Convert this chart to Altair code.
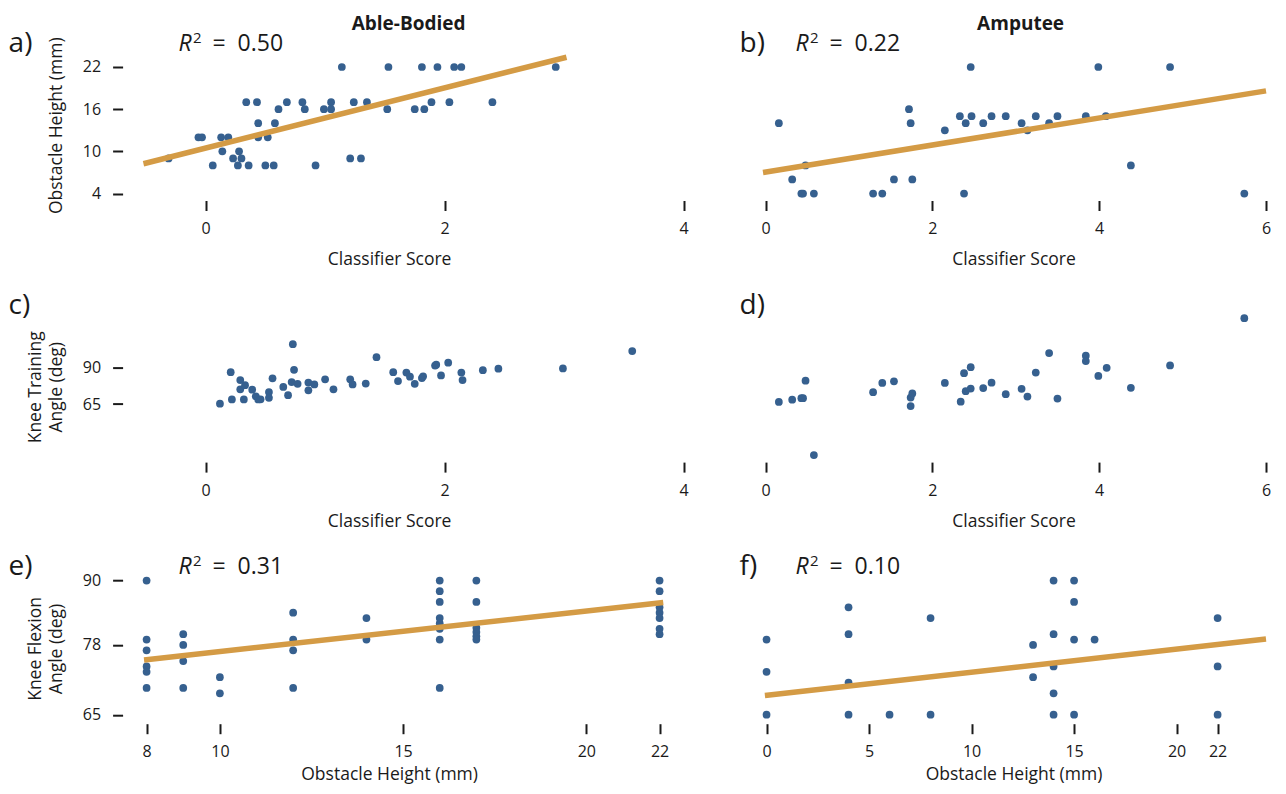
import altair as alt
import pandas as pd

FONT = "Open Sans"
PT_COLOR = "#36608F"
FIT_COLOR = "#D49B45"
INK = "#1a1a1a"

# ---------------- data ----------------
# a) Able-Bodied: classifier score vs obstacle height (mm)
a_score = [1.14, 1.53, 1.81, 1.94, 2.08, 2.14, 2.93,
           0.34, 0.43, 0.68, 0.81, 1.05, 1.24, 1.35, 1.89, 2.04, 2.40,
           0.61, 0.83, 0.99, 1.05, 1.52, 1.75, 1.83,
           0.44, 0.58,
           -0.06, -0.03, 0.13, 0.19, 0.44, 0.52,
           0.14, 0.28,
           -0.31, 0.23, 0.30, 1.21, 1.30,
           0.06, 0.27, 0.36, 0.50, 0.57, 0.92]
a_height = [22, 22, 22, 22, 22, 22, 22,
            17, 17, 17, 17, 17, 17, 17, 17, 17, 17,
            16, 16, 16, 16, 16, 16, 16,
            14, 14,
            12, 12, 12, 12, 12, 12,
            10, 10,
            9, 9, 9, 9, 9,
            8, 8, 8, 8, 8, 8]
a_fit_x = [-0.52, 3.02]
a_fit_y = [8.24, 23.39]

# b) Amputee: classifier score vs obstacle height (mm)
b_score = [0.16, 0.32, 0.43, 0.45, 0.48, 0.58, 1.29, 1.40, 1.54, 1.72, 1.74,
           1.76, 2.15, 2.33, 2.38, 2.40, 2.46, 2.47, 2.61, 2.71, 2.88, 3.07,
           3.14, 3.24, 3.40, 3.50, 3.84, 3.99, 4.08, 4.38, 4.85, 5.74]
b_height = [14, 6, 4, 4, 8, 4, 4, 4, 6, 16, 14,
            6, 13, 15, 4, 14, 22, 15, 14, 15, 15, 14,
            13, 15, 14, 15, 15, 22, 15, 8, 22, 4]
b_fit_x = [-0.03, 6.0]
b_fit_y = [7.0, 18.6]

# c) Able-Bodied: classifier score vs knee training angle (deg)
c_score = [0.12, 0.21, 0.22, 0.29, 0.29, 0.33, 0.32, 0.39, 0.42, 0.44, 0.46,
           0.53, 0.53, 0.56, 0.65, 0.69, 0.72, 0.73, 0.74, 0.77, 0.86, 0.86,
           0.91, 1.00, 1.07, 1.21, 1.23, 1.34, 1.43, 1.57, 1.61, 1.68, 1.71,
           1.75, 1.81, 1.82, 1.92, 1.93, 1.97, 2.03, 2.14, 2.15, 2.32, 2.45,
           2.99, 3.57]
c_angle = [65.2, 86.8, 68.1, 81.4, 75.1, 77.9, 68.1, 74.8, 70.3, 68.1, 68.2,
           73.2, 69.2, 82.6, 76.7, 71.0, 80.0, 106.0, 88.4, 78.8, 79.7, 74.4,
           78.4, 81.9, 75.1, 81.9, 78.4, 79.0, 97.1, 86.8, 80.7, 86.5, 83.7,
           78.8, 82.8, 84.0, 91.3, 91.9, 84.6, 93.3, 86.5, 81.4, 88.2, 89.2,
           89.4, 101.3]

# d) Amputee: classifier score vs knee training angle (deg)
d_score = [0.16, 0.32, 0.43, 0.45, 0.48, 0.58, 1.29, 1.40, 1.54, 1.74, 1.74,
           1.76, 2.15, 2.34, 2.38, 2.40, 2.46, 2.46, 2.61, 2.71, 2.88, 3.07,
           3.14, 3.24, 3.40, 3.50, 3.84, 3.84, 3.99, 4.09, 4.38, 4.85, 5.74]
d_angle = [66.4, 68.0, 69.0, 69.0, 81.0, 30.0, 73.1, 79.4, 80.5, 63.6, 69.4,
           72.2, 79.4, 66.6, 86.1, 73.8, 90.2, 75.6, 75.9, 79.6, 71.7, 75.4,
           70.1, 86.5, 99.9, 68.7, 98.1, 94.4, 84.2, 89.8, 76.1, 91.4, 123.8]

# e) Able-Bodied: obstacle height vs knee flexion angle (deg)
e_height = [8, 8, 8, 8, 8, 8,
            9, 9, 9, 9,
            10, 10,
            12, 12, 12, 12,
            14, 14,
            16, 16, 16, 16, 16, 16, 16, 16,
            17, 17, 17, 17, 17, 17,
            22, 22, 22, 22, 22, 22, 22]
e_flex = [90, 79, 77, 74, 73, 70,
          80, 78, 75, 70,
          72, 69,
          84, 79, 77, 70,
          83, 79,
          90, 88, 86, 83, 82, 81, 79, 70,
          90, 86, 81.2, 80.4, 79.6, 79,
          90, 88, 85, 84, 83, 81, 80]
e_fit_x = [7.93, 22.1]
e_fit_y = [75.2, 85.9]

# f) Amputee: obstacle height vs knee flexion angle (deg)
f_height = [0, 0, 0,
            4, 4, 4, 4,
            6,
            8, 8,
            13, 13,
            14, 14, 14, 14, 14,
            15, 15, 15, 15,
            16,
            22, 22, 22]
f_flex = [79, 73, 65,
          85, 80, 71, 65,
          65,
          83, 65,
          78, 72,
          90, 80, 74, 69, 65,
          90, 86, 79, 65,
          79,
          83, 74, 65]
f_fit_x = [-0.08, 24.36]
f_fit_y = [68.6, 79.1]

panel_labels = ["a)", "b)", "c)", "d)", "e)", "f)"]
r2_values = {"a)": "0.50", "b)": "0.22", "e)": "0.31", "f)": "0.10"}
group_headers = ["Able-Bodied", "Amputee"]
r2_symbol = ["R", "2", "="]

score_ticks_ab = [0, 2, 4]
score_ticks_amp = [0, 2, 4, 6]
height_ticks_ab = [8, 10, 15, 20, 22]
height_ticks_amp = [0, 5, 10, 15, 20, 22]
row1_yticks = [4, 10, 16, 22]
row2_yticks = [65, 90]
row3_yticks = [65, 78, 90]

# ---------------- layout ----------------
W_LEFT, W_RIGHT, H = 549, 505, 150.5


def text_layer(s, x, y, size, style="normal", weight="normal", align="left",
               baseline="alphabetic"):
    return alt.Chart(pd.DataFrame({"t": [s]})).mark_text(
        align=align, baseline=baseline, fontSize=size, fontStyle=style,
        fontWeight=weight, font=FONT, color=INK
    ).encode(text="t:N", x=alt.value(x), y=alt.value(y))


def panel(xs, ys, xdom, ydom, xticks, yticks, xtitle, ytitle, label,
          left_col, fit=None, header=None, title_pad=14):
    width = W_LEFT if left_col else W_RIGHT
    ax_kwargs = dict(values=xticks, title=xtitle, domain=False, grid=False,
                     tickSize=10, tickWidth=2, tickColor=INK, labelPadding=10,
                     titlePadding=title_pad, format="d", labelFlush=False)
    if left_col:
        ax_kwargs["titleX"] = 249.1
    xaxis = alt.Axis(**ax_kwargs)
    if left_col:
        yaxis = alt.Axis(values=yticks, title=ytitle, domain=False, grid=False,
                         tickSize=10, tickWidth=2, tickColor=INK, offset=17.4,
                         labelPadding=12, minExtent=40, maxExtent=40,
                         titlePadding=17, titleLineHeight=21, format="d",
                         labelFlush=False)
    else:
        yaxis = None
    xsc = alt.Scale(domain=xdom, nice=False, zero=False)
    ysc = alt.Scale(domain=ydom, nice=False, zero=False)
    df = pd.DataFrame({"x": xs, "y": ys})
    pts = alt.Chart(df).mark_circle(size=60, color=PT_COLOR, opacity=1).encode(
        x=alt.X("x:Q", scale=xsc, axis=xaxis),
        y=alt.Y("y:Q", scale=ysc, axis=yaxis),
    )
    layers = [pts]
    if fit is not None:
        fdf = pd.DataFrame({"x": fit[0], "y": fit[1]})
        layers.append(alt.Chart(fdf).mark_line(color=FIT_COLOR, strokeWidth=5.5).encode(
            x=alt.X("x:Q", scale=xsc), y=alt.Y("y:Q", scale=ysc)))
    lab_x = -131.4 if left_col else -21.4
    layers.append(text_layer(label, lab_x, 2.2, 28))
    if label in r2_values:
        rx = 38.6 if left_col else 34.6
        layers.append(text_layer(r2_symbol[0], rx, 0.5, 23, style="italic"))
        layers.append(text_layer(r2_symbol[1], rx + 14.5, -7.5, 15))
        layers.append(text_layer(r2_symbol[2], rx + 34, 0.5, 23))
        layers.append(text_layer(r2_values[label], rx + 59, 0.5, 23))
    if header is not None:
        hx = 268.6 if left_col else 259.6
        layers.append(text_layer(header, hx, -35.5, 19, weight="bold",
                                 align="center", baseline="top"))
    return alt.layer(*layers).properties(width=width, height=H)


pa = panel(a_score, a_height, [-0.549, 4.045], [3.01, 24.418], score_ticks_ab, row1_yticks,
           "Classifier Score", "Obstacle Height (mm)", panel_labels[0], True,
           fit=(a_fit_x, a_fit_y), header=group_headers[0])
pb = panel(b_score, b_height, [-0.054, 6.0], [3.01, 24.418], score_ticks_amp, row1_yticks,
           "Classifier Score", "", panel_labels[1], False,
           fit=(b_fit_x, b_fit_y), header=group_headers[1])
pc = panel(c_score, c_angle, [-0.549, 4.045], [25.21, 128.29], score_ticks_ab, row2_yticks,
           "Classifier Score", ["Knee Training", "Angle (deg)"], panel_labels[2], True)
pd_ = panel(d_score, d_angle, [-0.054, 6.0], [25.21, 128.29], score_ticks_amp, row2_yticks,
            "Classifier Score", "", panel_labels[3], False)
pe = panel(e_height, e_flex, [7.82, 22.803], [63.33, 91.36], height_ticks_ab, row3_yticks,
           "Obstacle Height (mm)", ["Knee Flexion", "Angle (deg)"], panel_labels[4], True,
           fit=(e_fit_x, e_fit_y), title_pad=6)
pf = panel(f_height, f_flex, [-0.27, 24.36], [63.33, 91.36], height_ticks_amp, row3_yticks,
           "Obstacle Height (mm)", "", panel_labels[5], False,
           fit=(f_fit_x, f_fit_y), title_pad=6)

chart = alt.concat(pa, pb, pc, pd_, pe, pf, columns=2,
                   spacing={"row": 110.6, "column": 72}, bounds="flush").properties(
    padding={"left": 0, "top": 6, "right": 0, "bottom": 0}
).configure_view(stroke=None).configure_axis(
    labelFont=FONT, titleFont=FONT, labelFontSize=16, titleFontSize=17.5,
    labelColor=INK, titleColor=INK, titleFontWeight="normal"
).configure_text(font=FONT)

chart.save("out.html", embed_options={"renderer": "svg", "actions": False})
